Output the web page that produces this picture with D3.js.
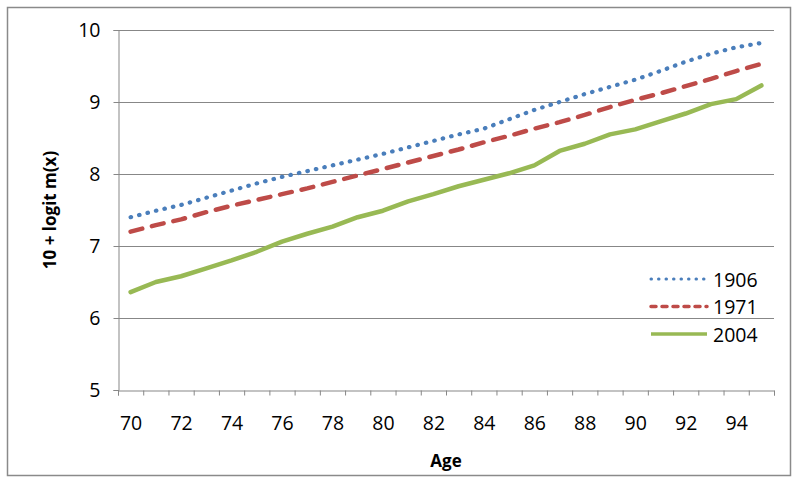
<!DOCTYPE html>
<html>
<head>
<meta charset="utf-8">
<script src="https://cdn.jsdelivr.net/npm/d3@7"></script>
<style>
  html, body { margin: 0; padding: 0; background: #ffffff; }
  svg { display: block; }
  text { font-family: "Open Sans", "Liberation Sans", sans-serif; fill: #000; }
</style>
</head>
<body>
<svg id="chart" width="800" height="484"></svg>
<script>
// ---- data ----
const ages = [70,71,72,73,74,75,76,77,78,79,80,81,82,83,84,85,86,87,88,89,90,91,92,93,94,95];
const s1906 = [7.40,7.49,7.57,7.67,7.77,7.87,7.96,8.04,8.12,8.20,8.28,8.37,8.46,8.55,8.63,8.76,8.89,9.00,9.11,9.21,9.31,9.43,9.56,9.67,9.76,9.82];
const s1971 = [7.20,7.29,7.37,7.47,7.56,7.64,7.72,7.80,7.89,7.98,8.07,8.16,8.25,8.34,8.44,8.53,8.63,8.72,8.82,8.93,9.03,9.12,9.22,9.32,9.43,9.53];
const s2004 = [6.36,6.50,6.58,6.69,6.80,6.92,7.06,7.17,7.27,7.40,7.49,7.62,7.72,7.83,7.92,8.01,8.12,8.32,8.42,8.55,8.62,8.73,8.84,8.97,9.04,9.23];
const seriesNames = ["1906","1971","2004"];
const yTicks = [5,6,7,8,9,10];
const xTickLabels = [70,72,74,76,78,80,82,84,86,88,90,92,94];
const yTitle = "10 + logit m(x)";
const xTitle = "Age";

(function () {
// ---- styles ----
const colors = ["#4A7EBB", "#BE4B48", "#98B954"];
const gridColor = "#878787";
const tickFont = 19.5;

const svg = d3.select("#chart");
const pLeft = 118, pRight = 774, pTop = 30, pBottom = 390;

const x = d3.scaleLinear().domain([ages[0] - 0.5, ages[ages.length - 1] + 0.5]).range([pLeft, pRight]);
const y = d3.scaleLinear().domain([5, 10]).range([pBottom, pTop]);

// outer frame
svg.append("rect").attr("x", 7.5).attr("y", 7.5).attr("width", 783).attr("height", 468)
  .attr("fill", "#fff").attr("stroke", "#8a8a8a").attr("stroke-width", 1.5);

// gridlines
svg.append("g").selectAll("line").data(yTicks.filter(d => d > 5)).join("line")
  .attr("x1", pLeft).attr("x2", pRight)
  .attr("y1", d => Math.round(y(d)) + 0.5).attr("y2", d => Math.round(y(d)) + 0.5)
  .attr("stroke", gridColor).attr("stroke-width", 1);

// y axis
const yAxis = svg.append("g").attr("transform", `translate(${pLeft + 0.5},0)`)
  .call(d3.axisLeft(y).tickValues(yTicks).tickSize(5).tickPadding(13).tickFormat(d3.format("d")));
yAxis.select(".domain").attr("stroke", gridColor);
yAxis.selectAll(".tick line").attr("stroke", gridColor);
yAxis.selectAll(".tick text").attr("font-size", tickFont).attr("font-family", '"Open Sans", sans-serif').attr("fill", "#000");

// x axis: tick marks at category boundaries
const boundaries = ages.map(a => a - 0.5).concat([ages[ages.length - 1] + 0.5]);
const xAxisMarks = svg.append("g").attr("transform", `translate(0,${pBottom + 0.5})`)
  .call(d3.axisBottom(x).tickValues(boundaries).tickSize(5).tickFormat(""));
xAxisMarks.select(".domain").attr("stroke", gridColor);
xAxisMarks.selectAll(".tick line").attr("stroke", gridColor);

const xAxisLabels = svg.append("g").attr("transform", `translate(0,${pBottom})`)
  .call(d3.axisBottom(x).tickValues(xTickLabels).tickSize(0).tickPadding(26).tickFormat(d3.format("d")));
xAxisLabels.select(".domain").remove();
xAxisLabels.selectAll(".tick text").attr("font-size", tickFont).attr("font-family", '"Open Sans", sans-serif').attr("fill", "#000");

// axis titles
svg.append("text").attr("x", (pLeft + pRight) / 2).attr("y", 467)
  .attr("text-anchor", "middle").attr("font-size", 17).attr("font-weight", "bold").text(xTitle);
svg.append("text").attr("transform", `translate(56,${(pTop + pBottom) / 2}) rotate(-90)`)
  .attr("text-anchor", "middle").attr("font-size", 17).attr("font-weight", "bold").text(yTitle);

// series
const allSeries = [s1906, s1971, s2004];
const styles = [
  { width: 4.2, dash: "0.5 8.2", cap: "round" },
  { width: 4.5, dash: "12 10", cap: "round" },
  { width: 4.5, dash: null, cap: "round" }
];
const line = d3.line().x((d, i) => x(ages[i])).y(d => y(d));
allSeries.forEach((s, k) => {
  svg.append("path").datum(s).attr("d", line)
    .attr("fill", "none").attr("stroke", colors[k])
    .attr("stroke-width", styles[k].width)
    .attr("stroke-linecap", styles[k].cap).attr("stroke-linejoin", "round")
    .attr("stroke-dasharray", styles[k].dash);
});

// legend
const legendStyles = [
  { width: 3, dash: "0.5 7" },
  { width: 3.5, dash: "5 6" },
  { width: 3.5, dash: null }
];
const lg = svg.append("g");
seriesNames.forEach((name, k) => {
  const cy = 279 + k * 27.5;
  lg.append("line").attr("x1", 651).attr("x2", 707).attr("y1", cy).attr("y2", cy)
    .attr("stroke", colors[k]).attr("stroke-width", legendStyles[k].width)
    .attr("stroke-linecap", k === 2 ? "butt" : "round")
    .attr("stroke-dasharray", legendStyles[k].dash);
  lg.append("text").attr("x", 713).attr("y", cy + 1).attr("dy", "0.35em")
    .attr("font-size", tickFont).text(name);
});
})();
</script>
</body>
</html>
